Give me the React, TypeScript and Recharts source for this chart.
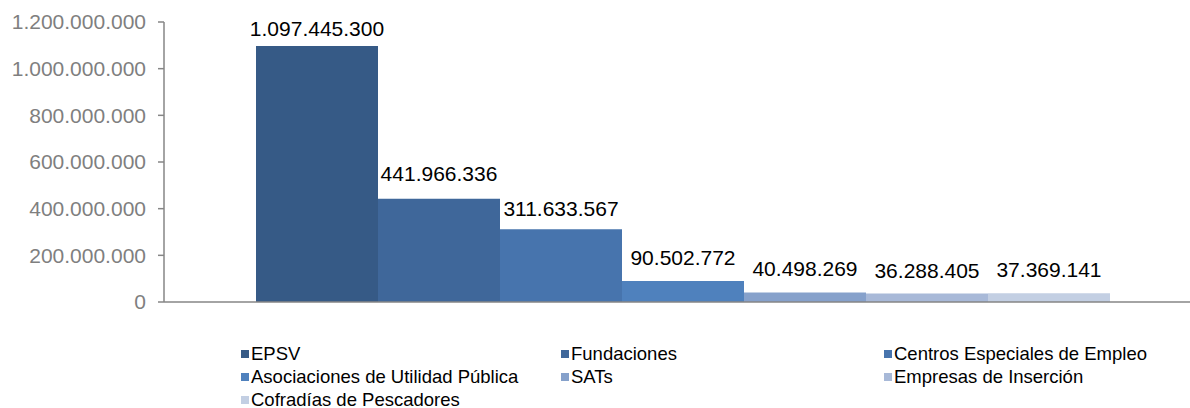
import { BarChart, Bar, XAxis, YAxis, LabelList } from "recharts";

const seriesNames = [
  "EPSV",
  "Fundaciones",
  "Centros Especiales de Empleo",
  "Asociaciones de Utilidad Pública",
  "SATs",
  "Empresas de Inserción",
  "Cofradías de Pescadores",
];

const seriesValues = [1097445300, 441966336, 311633567, 90502772, 40498269, 36288405, 37369141];

const yTicks = [0, 200000000, 400000000, 600000000, 800000000, 1000000000, 1200000000];

const colors = ["#365A86", "#3F679A", "#4774AD", "#4F81BD", "#86A1CB", "#A8B9D8", "#C3CFE3"];

// Excel put its labels at slightly uneven heights above the bars
const labelOffsets = [10, 18, 13, 16, 17, 16, 16];

const chartData = [
  seriesNames.reduce<Record<string, string | number>>(
    (row, name, i) => {
      row[name] = seriesValues[i];
      return row;
    },
    { name: "total" }
  ),
];

const font = "'Liberation Sans', Arial, sans-serif";

const fmt = (v: number) => String(Math.round(v)).replace(/\B(?=(\d{3})+(?!\d))/g, ".");

const legendCols = [241, 561, 884];
const legendRows = [354, 377, 400];

export default function App() {
  return (
    <div style={{ position: "absolute", left: 0, top: 0, width: 1190, height: 408, fontFamily: font }}>
      <BarChart
        width={1190}
        height={408}
        data={chartData}
        margin={{ top: 22, right: 0, left: 0, bottom: 76 }}
        barCategoryGap={77}
        barGap={0}
      >
        <XAxis
          dataKey="name"
          tick={false}
          tickLine={false}
          stroke="#868686"
          strokeWidth={1.5}
          padding={{ left: 15, right: 0 }}
          height={30}
        />
        <YAxis
          width={164}
          domain={[0, 1200000000]}
          ticks={yTicks}
          tickFormatter={fmt}
          stroke="#868686"
          strokeWidth={1.5}
          tickSize={6}
          tickMargin={12}
          tick={{ fill: "#7F7F7F", fontSize: 21, fontFamily: font }}
          interval={0}
        />
        {seriesNames.map((name, i) => (
          <Bar key={name} dataKey={name} fill={colors[i]} isAnimationActive={false}>
            <LabelList
              dataKey={name}
              position="top"
              offset={labelOffsets[i]}
              formatter={(v: any) => fmt(Number(v))}
              style={{ fill: "#000", fontSize: 21, fontFamily: font }}
            />
          </Bar>
        ))}
      </BarChart>
      {seriesNames.map((name, i) => (
        <div
          key={name}
          style={{
            position: "absolute",
            left: legendCols[i % 3],
            top: legendRows[Math.floor(i / 3)] - 11,
            height: 22,
            display: "flex",
            alignItems: "center",
            whiteSpace: "nowrap",
            fontSize: 18.5,
            color: "#000",
          }}
        >
          <span style={{ width: 8, height: 8, background: colors[i], marginRight: 2, display: "inline-block" }} />
          {name}
        </div>
      ))}
    </div>
  );
}
